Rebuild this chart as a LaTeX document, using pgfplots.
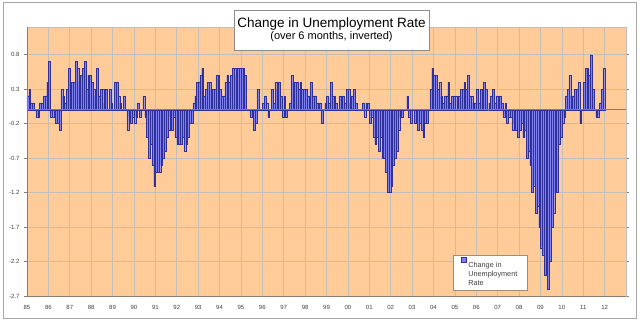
\documentclass[border=0pt]{standalone}
\usepackage{fontspec}
\setmainfont{Liberation Sans}
\usepackage{pgfplots}
\usepackage{pgfplotstable}
\pgfplotsset{compat=1.18}
\definecolor{plotbg}{HTML}{FFCC99}
\definecolor{barfill}{HTML}{8080F0}
\definecolor{baredge}{HTML}{30309A}
\definecolor{gridc}{HTML}{C4BEB8}
\definecolor{axisc}{HTML}{8C7B6B}
\definecolor{labc}{HTML}{404040}
\definecolor{legc}{HTML}{A08C6E}

% monthly values, Jan 1985 - Dec 2011
\pgfplotstableread[row sep=\\]{
v\\
0.2\\ 0.3\\ 0.1\\ 0.1\\ 0\\ -0.1\\ -0.1\\ 0.1\\ 0.1\\ 0.2\\ 0.2\\ 0.4\\
0.7\\ -0.1\\ -0.1\\ 0\\ -0.2\\ -0.2\\ -0.3\\ 0.3\\ 0.2\\ 0.1\\ 0.3\\ 0.6\\
0.4\\ 0.4\\ 0.4\\ 0.7\\ 0.6\\ 0.4\\ 0.5\\ 0.6\\ 0.7\\ 0.3\\ 0.5\\ 0.5\\
0.4\\ 0.3\\ 0.2\\ 0.6\\ 0.2\\ 0.3\\ 0.3\\ 0.1\\ 0.3\\ 0\\ 0.3\\ 0.1\\
0\\ 0.4\\ 0.4\\ 0.2\\ 0.1\\ 0\\ 0.2\\ 0\\ -0.3\\ -0.1\\ -0.2\\ -0.1\\
-0.2\\ -0.1\\ 0.1\\ -0.1\\ 0\\ 0.2\\ -0.1\\ -0.4\\ -0.7\\ -0.5\\ -0.8\\ -1.1\\
-0.9\\ -0.9\\ -0.9\\ -0.8\\ -0.7\\ -0.6\\ -0.4\\ -0.3\\ -0.1\\ -0.3\\ -0.1\\ -0.4\\
-0.5\\ -0.5\\ -0.5\\ -0.4\\ -0.6\\ -0.5\\ -0.4\\ -0.2\\ -0.2\\ 0.1\\ 0.2\\ 0.4\\
0.4\\ 0.5\\ 0.6\\ 0.2\\ 0.3\\ 0.4\\ 0.4\\ 0.3\\ 0.3\\ 0.3\\ 0.5\\ 0.5\\
0.3\\ 0.2\\ 0.2\\ 0.4\\ 0.5\\ 0.4\\ 0.5\\ 0.6\\ 0.6\\ 0.5\\ 0.6\\ 0.6\\
0.6\\ 0.6\\ 0.5\\ 0\\ 0\\ -0.1\\ -0.1\\ -0.3\\ -0.2\\ 0.3\\ 0\\ 0\\
0.1\\ 0.2\\ 0.1\\ -0.1\\ 0\\ 0.3\\ 0.1\\ 0.4\\ 0.3\\ 0.4\\ 0.2\\ -0.1\\
0.2\\ -0.1\\ 0\\ 0.1\\ 0.5\\ 0.4\\ 0.4\\ 0.4\\ 0.3\\ 0.4\\ 0.3\\ 0.3\\
0.3\\ 0.2\\ 0.2\\ 0.4\\ 0.2\\ 0.2\\ 0.1\\ 0.1\\ 0.1\\ -0.2\\ 0\\ 0.1\\
0.2\\ 0.1\\ 0.4\\ 0.2\\ 0.2\\ 0.1\\ 0\\ 0.2\\ 0\\ 0.2\\ 0.1\\ 0.3\\
0.3\\ 0.1\\ 0.2\\ 0.3\\ 0.1\\ 0\\ 0\\ 0\\ 0.1\\ -0.1\\ 0.1\\ 0.1\\
-0.2\\ -0.1\\ -0.4\\ -0.5\\ -0.4\\ -0.6\\ -0.4\\ -0.7\\ -0.7\\ -0.9\\ -1.2\\ -1.2\\
-1.1\\ -0.8\\ -0.7\\ -0.6\\ -0.3\\ -0.1\\ -0.1\\ 0\\ 0\\ 0.2\\ -0.1\\ -0.2\\
0\\ -0.2\\ -0.2\\ -0.3\\ -0.2\\ -0.3\\ -0.4\\ -0.2\\ -0.2\\ 0\\ 0.3\\ 0.6\\
0.5\\ 0.5\\ 0.3\\ 0.4\\ 0.2\\ 0.1\\ 0.2\\ 0.2\\ 0.4\\ 0.1\\ 0.2\\ 0.2\\
0.2\\ 0\\ 0.2\\ 0.3\\ 0.3\\ 0.4\\ 0.3\\ 0.5\\ 0.2\\ 0.2\\ 0.1\\ 0.1\\
0.3\\ 0.1\\ 0.3\\ 0.3\\ 0.4\\ 0.3\\ 0\\ 0.1\\ 0.2\\ 0.3\\ 0.1\\ 0.2\\
0.1\\ 0.2\\ 0.1\\ -0.1\\ 0.1\\ -0.2\\ -0.1\\ -0.1\\ -0.3\\ -0.2\\ -0.3\\ -0.4\\
-0.3\\ -0.2\\ -0.4\\ -0.3\\ -0.7\\ -0.6\\ -0.8\\ -1.2\\ -1.1\\ -1.5\\ -1.4\\ -1.7\\
-2.0\\ -2.1\\ -2.4\\ -2.3\\ -2.6\\ -2.2\\ -1.7\\ -1.5\\ -1.2\\ -1.2\\ -0.5\\ -0.4\\
-0.2\\ -0.1\\ 0.2\\ 0.3\\ 0.5\\ 0.2\\ 0.2\\ 0.3\\ 0.3\\ 0.4\\ -0.2\\ 0\\
0.4\\ 0.6\\ 0.6\\ 0.5\\ 0.8\\ 0.3\\ 0\\ -0.1\\ -0.1\\ 0.1\\ 0.3\\ 0.6\\
}\data

\begin{document}
\begin{tikzpicture}[x=1pt,y=1pt]
\fill[white] (0,0) rectangle (640,322);
\useasboundingbox (0,0) rectangle (640,322);
\draw[color=black!35, line width=1pt] (3,4) rectangle (636.5,319);
\begin{axis}[
  at={(27pt,26pt)}, anchor=south west,
  scale only axis, width=599pt, height=269pt,
  xmin=0, xmax=336, ymin=-2.7, ymax=1.2,
  axis background/.style={fill=plotbg},
  axis line style={gridc, line width=0.6pt},
  xtick={0,12,...,324},
  xticklabels={85,86,87,88,89,90,91,92,93,94,95,96,97,98,99,00,01,02,03,04,05,06,07,08,09,10,11,12},
  ytick={-2.7,-2.2,-1.7,-1.2,-0.7,-0.2,0.3,0.8},
  yticklabels={-2.7,-2.2,-1.7,-1.2,-0.7,-0.2,0.3,0.8},
  grid=major, major grid style={gridc, line width=0.6pt},
  xtick style={draw=none},
  ytick style={axisc, line width=0.6pt},
  tick align=outside, major tick length=3pt,
  ticklabel style={font=\fontsize{6}{7}\selectfont, text=labc},
  xticklabel style={yshift=-3pt},
  yticklabel style={xshift=-1pt},
  legend style={at={(0.7115,0.152)}, anchor=north west, draw=legc, fill=white,
    line width=0.6pt, font=\fontsize{7.3}{9}\selectfont, text=labc,
    inner xsep=8pt, inner ysep=2pt, cells={align=left, anchor=north west}},
  legend image code/.code={\draw[fill=barfill, draw=baredge, line width=0.3pt] (0pt,-2.5pt) rectangle (4.5pt,2pt);},
]
\addplot[ybar, bar width=1, bar shift=0pt, fill=barfill, draw=baredge, line width=0.15pt]
  table[x expr=\coordindex+0.5, y=v] {\data};
\addlegendentry{Change in\\Unemployment\\Rate}
\draw[axisc, line width=0.7pt] (axis cs:0,0) -- (axis cs:336,0);
\draw[axisc, line width=0.8pt] (axis cs:0,-2.7) -- (axis cs:0,1.2);
\draw[axisc, line width=0.6pt] (axis cs:0,-2.7) -- (axis cs:336,-2.7);
\end{axis}
\node[draw=black!45, fill=white, line width=0.8pt, minimum width=195pt, minimum height=40pt, align=center, inner sep=0pt]
  at (331.5,292) {\fontsize{13.5}{16}\selectfont Change in Unemployment Rate\\\fontsize{11}{16}\selectfont (over 6 months, inverted)};
\end{tikzpicture}
\end{document}
